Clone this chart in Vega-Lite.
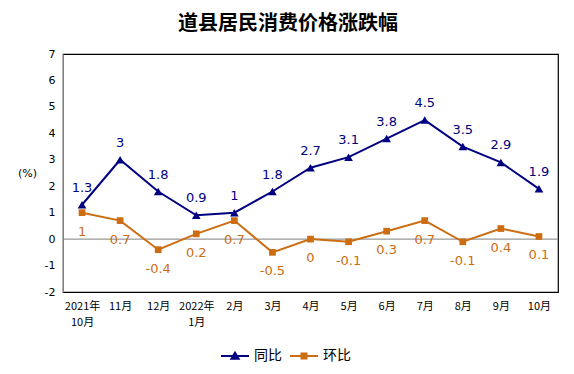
{
  "$schema": "https://vega.github.io/schema/vega-lite/v6.json",
  "autosize": "none",
  "padding": {"left": 63, "top": 54, "right": 16, "bottom": 82},
  "width": 495,
  "height": 238,
  "background": "white",
  "config": {
    "font": "DejaVu Sans, Noto Sans CJK SC",
    "view": {"stroke": "#000000", "strokeWidth": 1.2}
  },
  "title": {
    "text": "道县居民消费价格涨跌幅",
    "font": "Noto Sans CJK SC",
    "fontSize": 20,
    "fontWeight": "bold",
    "color": "#000000",
    "anchor": "middle",
    "frame": "bounds",
    "offset": 14
  },
  "data": {
    "values": [
      {"month": "2021年|10月", "series": "同比", "value": 1.3},
      {"month": "11月", "series": "同比", "value": 3},
      {"month": "12月", "series": "同比", "value": 1.8},
      {"month": "2022年|1月", "series": "同比", "value": 0.9},
      {"month": "2月", "series": "同比", "value": 1},
      {"month": "3月", "series": "同比", "value": 1.8},
      {"month": "4月", "series": "同比", "value": 2.7},
      {"month": "5月", "series": "同比", "value": 3.1},
      {"month": "6月", "series": "同比", "value": 3.8},
      {"month": "7月", "series": "同比", "value": 4.5},
      {"month": "8月", "series": "同比", "value": 3.5},
      {"month": "9月", "series": "同比", "value": 2.9},
      {"month": "10月", "series": "同比", "value": 1.9},
      {"month": "2021年|10月", "series": "环比", "value": 1},
      {"month": "11月", "series": "环比", "value": 0.7},
      {"month": "12月", "series": "环比", "value": -0.4},
      {"month": "2022年|1月", "series": "环比", "value": 0.2},
      {"month": "2月", "series": "环比", "value": 0.7},
      {"month": "3月", "series": "环比", "value": -0.5},
      {"month": "4月", "series": "环比", "value": 0},
      {"month": "5月", "series": "环比", "value": -0.1},
      {"month": "6月", "series": "环比", "value": 0.3},
      {"month": "7月", "series": "环比", "value": 0.7},
      {"month": "8月", "series": "环比", "value": -0.1},
      {"month": "9月", "series": "环比", "value": 0.4},
      {"month": "10月", "series": "环比", "value": 0.1}
    ]
  },
  "encoding": {
    "x": {
      "field": "month",
      "type": "nominal",
      "sort": null,
      "scale": {"type": "point", "padding": 0.5},
      "axis": {
        "title": null,
        "labelAngle": 0,
        "labelExpr": "split(datum.value, '|')",
        "labelFontSize": 11,
        "labelLineHeight": 16,
        "labelColor": "#000000",
        "labelPadding": 8,
        "domain": false,
        "ticks": false,
        "labelFont": "Noto Sans CJK SC"
      }
    },
    "y": {
      "field": "value",
      "type": "quantitative",
      "scale": {"domain": [-2, 7]},
      "axis": {
        "values": [-2, -1, 0, 1, 2, 3, 4, 5, 6, 7],
        "labelExpr": "'' + datum.value",
        "grid": false,
        "ticks": false,
        "domainColor": "#808080",
        "labelFontSize": 11,
        "labelColor": "#000000",
        "labelPadding": 8,
        "title": "(%)",
        "titleAngle": 0,
        "titleX": -36,
        "titleY": 119,
        "titleAlign": "center",
        "titleBaseline": "middle",
        "titleFontSize": 11,
        "titleFontWeight": "normal",
        "titleColor": "#000000"
      }
    },
    "color": {
      "field": "series",
      "type": "nominal",
      "scale": {"domain": ["同比", "环比"], "range": ["#000080", "#CC6D12"]},
      "legend": {
        "orient": "none",
        "legendX": 157,
        "legendY": 287,
        "direction": "horizontal",
        "title": null,
        "symbolSize": 784,
        "symbolType": "M-1,0H1M-0.26,0.2L0,-0.24L0.26,0.2Z",
        "labelFontSize": 14,
        "labelFont": "Noto Sans CJK SC",
        "labelColor": "#000000",
        "columnPadding": 4,
        "labelOffset": 4,
        "encode": {
          "symbols": {
            "update": {
              "shape": {"signal": "datum.value === '同比' ? 'M-1,0H1M-0.26,0.2L0,-0.24L0.26,0.2Z' : 'M-1,0H1M-0.18,-0.18H0.18V0.18H-0.18Z'"},
              "fill": {"signal": "scale('color', datum.value)"},
              "stroke": {"signal": "scale('color', datum.value)"},
              "strokeWidth": {"value": 2},
              "opacity": {"value": 1}
            }
          }
        }
      }
    }
  },
  "layer": [
    {
      "data": {"values": [{"zero": 0}]},
      "mark": {"type": "rule", "color": "#808080", "strokeWidth": 1},
      "encoding": {
        "y": {"field": "zero", "type": "quantitative"},
        "x": null,
        "color": null
      }
    },
    {
      "mark": {"type": "line", "strokeWidth": 2},
      "encoding": {"detail": {"field": "series"}}
    },
    {
      "transform": [{"filter": "datum.series === '同比'"}],
      "mark": {"type": "point", "filled": true, "opacity": 1, "shape": "triangle-up", "size": 75}
    },
    {
      "transform": [{"filter": "datum.series === '环比'"}],
      "mark": {"type": "point", "filled": true, "opacity": 1, "shape": "square", "size": 45}
    },
    {
      "transform": [{"filter": "datum.series === '同比'"}],
      "mark": {"type": "text", "dy": -17, "fontSize": 13, "baseline": "middle"},
      "encoding": {"text": {"field": "value", "type": "nominal"}}
    },
    {
      "transform": [{"filter": "datum.series === '环比'"}],
      "mark": {"type": "text", "dy": 19, "fontSize": 13, "baseline": "middle"},
      "encoding": {"text": {"field": "value", "type": "nominal"}}
    }
  ]
}
